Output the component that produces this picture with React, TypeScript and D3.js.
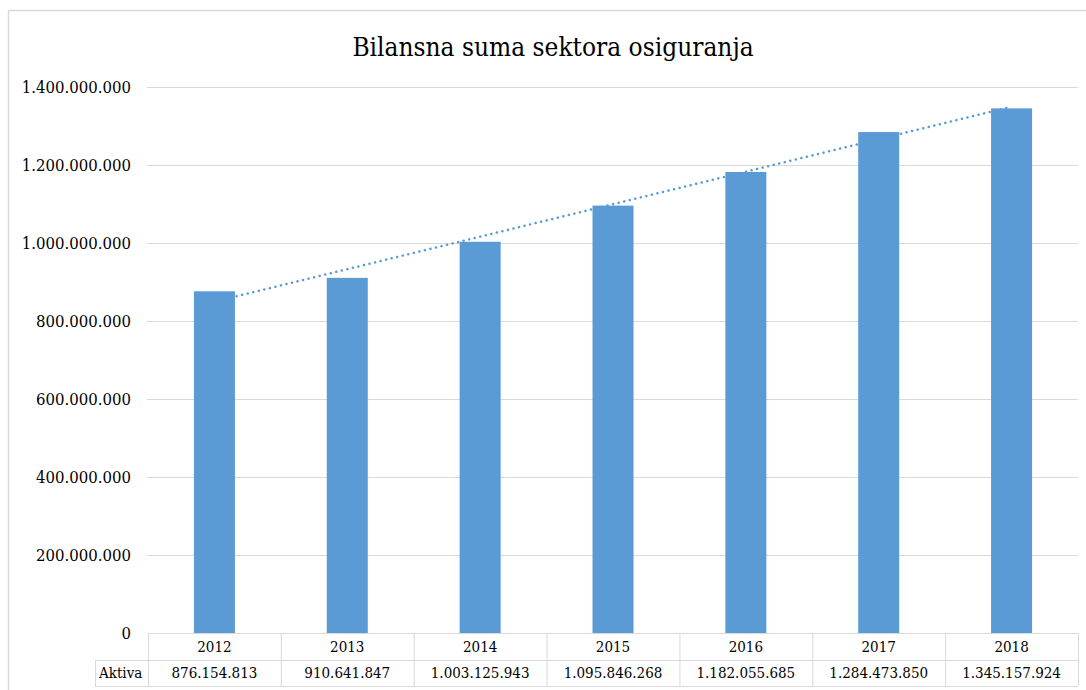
import React from "react";
import * as d3 from "d3";

const title = "Bilansna suma sektora osiguranja";
const years = ["2012", "2013", "2014", "2015", "2016", "2017", "2018"];
const aktiva = [876154813, 910641847, 1003125943, 1095846268, 1182055685, 1284473850, 1345157924];
const yTicks = [0, 200000000, 400000000, 600000000, 800000000, 1000000000, 1200000000, 1400000000];
const seriesName = "Aktiva";

const W = 1086;
const H = 690;
const FONT = "'DejaVu Serif Condensed', 'DejaVu Serif', serif";
const BLUE = "#5B9BD5";
const GRID = "#D9D9D9";

function fmt(v: number): string {
  if (v === 0) return "0";
  return d3.format(",")(v).replace(/,/g, ".");
}

export default function App() {
  const left = 148, right = 1078, top = 87, bottom = 633;
  const x = d3.scaleBand<string>().domain(years).range([left, right]).paddingInner(0).paddingOuter(0);
  const y = d3.scaleLinear().domain([0, 1400000000]).range([bottom, top]);
  const bw = 41;
  const row1 = 660, row2 = 686, tableLeft = 95;

  // linear trendline (least squares)
  const xs = aktiva.map((_, i) => i);
  const mx = d3.mean(xs) as number;
  const my = d3.mean(aktiva) as number;
  const slope = d3.sum(xs.map((xi, i) => (xi - mx) * (aktiva[i] - my))) / d3.sum(xs.map((xi) => (xi - mx) ** 2));
  const icpt = my - slope * mx;
  const cx = (i: number) => (x(years[i]) as number) + x.bandwidth() / 2;
  const trend = d3.line<number>().x((i) => cx(i)).y((i) => y(icpt + slope * i));

  return (
    <svg width={W} height={H} style={{ position: "absolute", left: 0, top: 0, background: "#fff" }}>
      <rect x={8.5} y={10.5} width={W + 10} height={H} fill="#fff" stroke={GRID} strokeWidth={1.5} />
      <text x={553} y={56} textAnchor="middle" fontFamily={FONT} fontSize={26} fill="#000">{title}</text>
      {yTicks.map((t) => (
        <g key={t}>
          {t > 0 && <line x1={left - 1} x2={right} y1={y(t) + 0.5} y2={y(t) + 0.5} stroke={GRID} strokeWidth={1} />}
          <text x={131} y={y(t) + 6} textAnchor="end" fontFamily={FONT} fontSize={16.6} fill="#000">{fmt(t)}</text>
        </g>
      ))}
      <path d={trend(xs) as string} fill="none" stroke={BLUE} strokeWidth={2.5} strokeLinecap="round" strokeDasharray="0.1 5.6" />
      {aktiva.map((v, i) => (
        <rect key={years[i]} x={cx(i) - bw / 2} y={y(v)} width={bw} height={bottom - y(v)} fill={BLUE} />
      ))}
      <g stroke={GRID} strokeWidth={1} fill="none">
        <line x1={left} x2={right} y1={bottom + 0.5} y2={bottom + 0.5} />
        <line x1={tableLeft} x2={right} y1={row1 + 0.5} y2={row1 + 0.5} />
        <line x1={tableLeft} x2={right} y1={row2 + 0.5} y2={row2 + 0.5} />
        <line x1={tableLeft + 0.5} x2={tableLeft + 0.5} y1={row1} y2={row2} />
        {years.map((yr) => (
          <line key={yr} x1={(x(yr) as number) + 0.5} x2={(x(yr) as number) + 0.5} y1={bottom} y2={row2} />
        ))}
        <line x1={right + 0.5} x2={right + 0.5} y1={bottom} y2={row2} />
      </g>
      {years.map((yr, i) => (
        <g key={yr}>
          <text x={cx(i)} y={652} textAnchor="middle" fontFamily={FONT} fontSize={15} fill="#000">{yr}</text>
          <text x={cx(i)} y={678} textAnchor="middle" fontFamily={FONT} fontSize={15} fill="#000">{fmt(aktiva[i])}</text>
        </g>
      ))}
      <text x={tableLeft + 4} y={678} fontFamily={FONT} fontSize={15} fill="#000">{seriesName}</text>
    </svg>
  );
}
